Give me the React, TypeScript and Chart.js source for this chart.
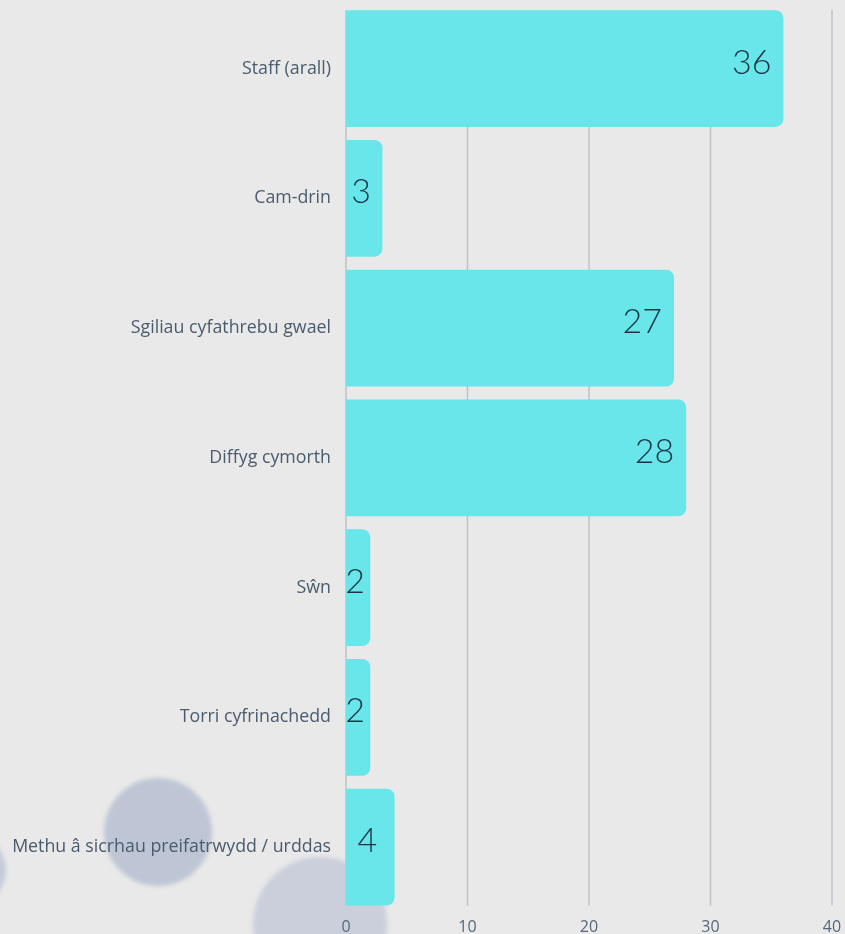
import React, { useEffect, useRef } from "react";
import { Chart, registerables } from "chart.js";

Chart.register(...registerables);

const categories = [
  "Staff (arall)",
  "Cam-drin",
  "Sgiliau cyfathrebu gwael",
  "Diffyg cymorth",
  "Sŵn",
  "Torri cyfrinachedd",
  "Methu â sicrhau preifatrwydd / urddas",
];
const values = [36, 3, 27, 28, 2, 2, 4];
const xTicks = [0, 10, 20, 30, 40];

const gridPlugin = {
  id: "vGrid",
  beforeDatasetsDraw(chart: any) {
    const ctx = chart.ctx;
    const x = chart.scales.x;
    const a = chart.chartArea;
    ctx.save();
    ctx.strokeStyle = "#bcc1c8";
    ctx.lineWidth = 1.5;
    xTicks.forEach((v) => {
      const px = x.getPixelForValue(v);
      ctx.beginPath();
      ctx.moveTo(px, a.top + 6.5);
      ctx.lineTo(px, a.bottom - 6.5);
      ctx.stroke();
    });
    ctx.restore();
  },
};

const labelPlugin = {
  id: "barLabels",
  afterDatasetsDraw(chart: any) {
    const ctx = chart.ctx;
    const meta = chart.getDatasetMeta(0);
    ctx.save();
    ctx.font = '300 34px "Lato", "Noto Sans", sans-serif';
    ctx.fillStyle = "#1e3547";
    ctx.textBaseline = "middle";
    meta.data.forEach((bar: any, i: number) => {
      const text = String(values[i]);
      const start = bar.base;
      const end = bar.x;
      const w = end - start;
      if (w < 60) {
        ctx.textAlign = "center";
        ctx.fillText(text, (start + end) / 2 - 3, bar.y - 6);
      } else {
        ctx.textAlign = "right";
        ctx.fillText(text, end - 12, bar.y - 6);
      }
    });
    ctx.restore();
  },
};

export default function App() {
  const ref = useRef<HTMLCanvasElement | null>(null);
  useEffect(() => {
    document.body.style.margin = "0";
    document.body.style.background = "#e9e9e9";
    const chart = new Chart(ref.current!, {
      type: "bar",
      data: {
        labels: categories,
        datasets: [
          {
            data: values,
            backgroundColor: "#69e6ea",
            borderRadius: 8,
            borderSkipped: "start",
            barPercentage: 0.9,
            categoryPercentage: 1,
          },
        ],
      },
      options: {
        indexAxis: "y",
        animation: false,
        responsive: false,
        maintainAspectRatio: false,
        layout: { padding: { top: 0, right: 28, left: 0, bottom: 0 } },
        plugins: { legend: { display: false }, tooltip: { enabled: false } },
        scales: {
          x: {
            min: 0,
            max: 40,
            afterBuildTicks: (s: any) => {
              s.ticks = xTicks.map((v) => ({ value: v }));
            },
            afterFit: (s: any) => {
              s.height = 45;
            },
            grid: { display: false, drawTicks: false },
            border: { display: false },
            ticks: {
              padding: 6,
              color: "#56687b",
              font: { family: '"Open Sans", sans-serif', size: 16 },
            },
          },
          y: {
            afterFit: (s: any) => {
              s.width = 346;
            },
            grid: { display: false, drawTicks: false },
            border: { display: false },
            ticks: {
              padding: 15,
              color: "#4a5b6e",
              font: { family: '"Open Sans", sans-serif', size: 17.8 },
            },
          },
        },
      },
      plugins: [gridPlugin, labelPlugin],
    });
    return () => chart.destroy();
  }, []);

  const circle = (left: number, top: number, r: number, color: string) => (
    <div
      style={{
        position: "absolute",
        left: left - r,
        top: top - r,
        width: r * 2,
        height: r * 2,
        borderRadius: "50%",
        background: color,
        filter: "blur(2px)",
      }}
    />
  );

  return (
    <div
      style={{
        position: "relative",
        width: 845,
        height: 934,
        overflow: "hidden",
        background: "#e9e9e9",
      }}
    >
      {circle(158, 832, 54, "#bec6d5")}
      {circle(320, 924, 67, "#cacfdb")}
      {circle(-30, 870, 36, "#c4cbd8")}
      <canvas
        ref={ref}
        width={860}
        height={979}
        style={{ position: "absolute", left: 0, top: -22 }}
      />
    </div>
  );
}
